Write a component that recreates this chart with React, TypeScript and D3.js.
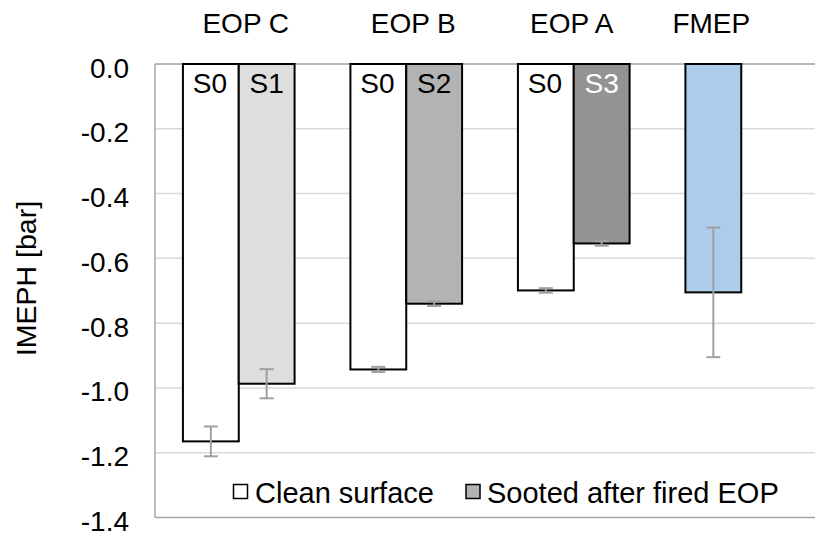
import React from "react";
import * as d3 from "d3";

const categories = ["EOP C", "EOP B", "EOP A", "FMEP"];
const cleanValues = [-1.165, -0.943, -0.699, -0.705];
const cleanErrors = [0.046, 0.008, 0.007, 0.2];
const sootedValues: (number | null)[] = [-0.987, -0.74, -0.554, null];
const sootedErrors: (number | null)[] = [0.045, 0.007, 0.007, null];
const cleanLabels = ["S0", "S0", "S0", ""];
const sootedLabels = ["S1", "S2", "S3", ""];
const yTicks = [0, -0.2, -0.4, -0.6, -0.8, -1.0, -1.2, -1.4];
const legendLabels = ["Clean surface", "Sooted after fired EOP"];

const W = 815;
const H = 535;
const FONT = "'Liberation Sans', Arial, sans-serif";
const cleanFill = "#ffffff";
const fmepFill = "#abcdea";
const sootedFills = ["#dedede", "#b3b3b3", "#939393"];
const sootedLabelColors = ["#000", "#000", "#fff"];
const catLabelOffsets = [7, 7, -2, -2];

export default function App() {
  const x = d3.scaleBand<string>().domain(categories).range([155, 825]).paddingInner(0).paddingOuter(0);
  const y = d3.scaleLinear().domain([-1.4, 0]).range([517.5, 64]);
  const band = x.bandwidth();
  const barW = band / 3;
  const groupStart = (c: string) => (x(c) as number) + (band - 2 * barW) / 2;

  const bar = (x0: number, v: number, fill: string, key: string) => (
    <rect key={key} x={x0} y={y(0)} width={barW} height={y(v) - y(0)} fill={fill} stroke="#000" strokeWidth={2} />
  );
  const errBar = (cx: number, v: number, e: number, key: string) => (
    <g key={key} stroke="#a0a0a0" strokeWidth={2}>
      <line x1={cx} x2={cx} y1={y(v + e)} y2={y(v - e)} />
      <line x1={cx - 7} x2={cx + 7} y1={y(v + e)} y2={y(v + e)} />
      <line x1={cx - 7} x2={cx + 7} y1={y(v - e)} y2={y(v - e)} />
    </g>
  );

  return (
    <svg width={W} height={H} style={{ position: "fixed", left: 0, top: 0, background: "#fff" }} fontFamily={FONT}>
      <rect width={W} height={H} fill="#fff" />
      {/* gridlines */}
      {yTicks.slice(1, -1).map((t) => (
        <line key={"g" + t} x1={155} x2={825} y1={y(t)} y2={y(t)} stroke="#d9d9d9" strokeWidth={1.5} />
      ))}
      <line x1={155} x2={825} y1={y(-1.4)} y2={y(-1.4)} stroke="#a6a6a6" strokeWidth={1.5} />
      <line x1={155} x2={155} y1={y(0)} y2={y(-1.4)} stroke="#a6a6a6" strokeWidth={1.5} />
      {/* tick labels */}
      {yTicks.map((t) => (
        <text key={"t" + t} x={129} y={y(t) + 13.5} textAnchor="end" fontSize={28} fill="#000">
          {d3.format(".1f")(t).replace("−", "-")}
        </text>
      ))}
      {/* bars */}
      {categories.map((c, i) => {
        const gs = groupStart(c);
        const els: React.ReactNode[] = [];
        els.push(bar(gs, cleanValues[i], c === "FMEP" ? fmepFill : cleanFill, "c" + i));
        const sv = sootedValues[i];
        if (sv !== null) els.push(bar(gs + barW, sv, sootedFills[i], "s" + i));
        return <g key={c}>{els}</g>;
      })}
      {/* error bars */}
      {categories.map((c, i) => {
        const gs = groupStart(c);
        const els: React.ReactNode[] = [];
        els.push(errBar(gs + barW / 2, cleanValues[i], cleanErrors[i], "ec" + i));
        const sv = sootedValues[i];
        const se = sootedErrors[i];
        if (sv !== null && se !== null) els.push(errBar(gs + barW * 1.5, sv, se, "es" + i));
        return <g key={"e" + c}>{els}</g>;
      })}
      {/* zero axis */}
      <line x1={155} x2={825} y1={y(0)} y2={y(0)} stroke="#a0a0a0" strokeWidth={1.5} />
      {categories.map((c, i) => {
        const gs = groupStart(c);
        const n = sootedValues[i] !== null ? 2 : 1;
        return <line key={"top" + i} x1={gs - 1} x2={gs + n * barW + 1} y1={y(0)} y2={y(0)} stroke="#000" strokeWidth={2} />;
      })}
      {/* bar labels */}
      {categories.map((c, i) => {
        const gs = groupStart(c);
        return (
          <g key={"bl" + i} fontSize={28} textAnchor="middle">
            {cleanLabels[i] && <text x={gs + barW / 2 - 1} y={y(0) + 29}>{cleanLabels[i]}</text>}
            {sootedLabels[i] && (
              <text x={gs + barW * 1.5} y={y(0) + 29} fill={sootedLabelColors[i]}>
                {sootedLabels[i]}
              </text>
            )}
          </g>
        );
      })}
      {/* category labels */}
      {categories.map((c, i) => {
        const cx = c === "FMEP" ? groupStart(c) + barW / 2 : (x(c) as number) + band / 2;
        return (
          <text key={"cl" + i} x={cx + catLabelOffsets[i]} y={33} textAnchor="middle" fontSize={28}>
            {c}
          </text>
        );
      })}
      {/* y title */}
      <text transform={`translate(36,278.5) rotate(-90)`} textAnchor="middle" fontSize={28.5}>
        IMEPH [bar]
      </text>
      {/* legend */}
      <rect x={233.5} y={484.5} width={14} height={14} fill={cleanFill} stroke="#000" strokeWidth={1.5} />
      <text x={255} y={503} fontSize={29}>{legendLabels[0]}</text>
      <rect x={466} y={484.5} width={14} height={14} fill={sootedFills[1]} stroke="#000" strokeWidth={1.5} />
      <text x={487} y={503} fontSize={29}>{legendLabels[1]}</text>
    </svg>
  );
}
